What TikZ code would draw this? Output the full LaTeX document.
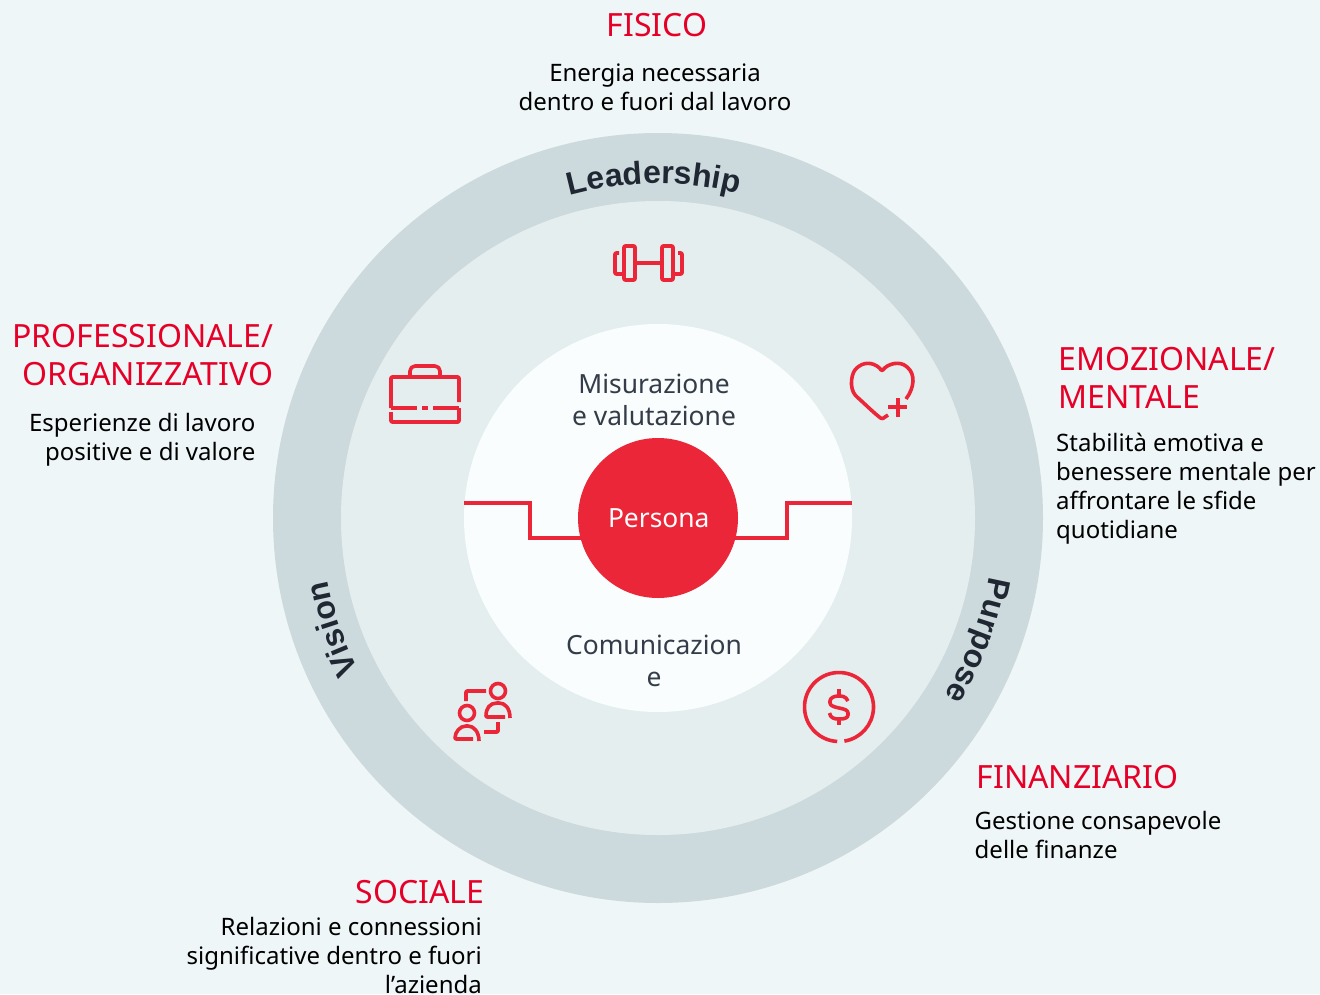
\documentclass[tikz,border=0pt]{standalone}
\usepackage{fontspec}
\setmainfont{Noto Sans}
\newfontfamily\arcfont{Liberation Sans}[BoldFont={Liberation Sans Bold}]
\usetikzlibrary{decorations.text}
\definecolor{bgc}{HTML}{EFF6F7}
\definecolor{ringc}{HTML}{CDDADD}
\definecolor{midc}{HTML}{E4EEEE}
\definecolor{innerc}{HTML}{F9FDFD}
\definecolor{redc}{HTML}{EB2638}
\definecolor{titlec}{HTML}{E60028}
\definecolor{inkc}{HTML}{1F2733}
\definecolor{softc}{HTML}{333C48}
\tikzset{
  disc/.style={circle,inner sep=0pt,draw=none},
  titletext/.style={inner sep=0pt,text=titlec,font=\fontsize{32}{38}\selectfont},
  bodytext/.style={inner sep=0pt,text=black,font=\fontsize{24}{29}\selectfont},
  midtext/.style={inner sep=0pt,text=softc,font=\fontsize{26.4}{32}\selectfont},
  icon/.style={draw=redc,line width=3.6pt,line cap=butt,line join=round,rounded corners=1pt},
  stepline/.style={draw=redc,line width=3.8pt,line join=miter},
  arclabel/.style={decorate,decoration={text along path,text color=inkc,
    text={|\arcfont\bfseries\fontsize{32}{32}\selectfont|#1}}}
}
\begin{document}
\begin{tikzpicture}[x=1pt,y=-1pt]
\useasboundingbox (0,0) rectangle (1320,994);
\fill[bgc] (0,0) rectangle (1320,994);
\coordinate (c) at (658,518);
\node[disc,fill=ringc,minimum size=770pt] (ring) at (c) {};
\node[disc,fill=midc,minimum size=634pt] (mid) at (c) {};
\node[disc,fill=innerc,minimum size=388pt] (inner) at (c) {};
% step lines
\coordinate (la) at (464,503);
\coordinate (ra) at (852,503);
\coordinate (lb) at (530,538);
\coordinate (rb) at (787,538);
\coordinate (lc) at (600,538);
\coordinate (rc) at (716,538);
\draw[stepline] (la) -| (lb) -- (lc);
\draw[stepline] (ra) -| (rb) -- (rc);
\node[disc,fill=redc,minimum size=160pt,text=white,font=\fontsize{26.4}{32}\selectfont] (persona) at (c) {\hspace{1.5pt}\raisebox{-4.5pt}{Persona}};
% arc labels
\path[arclabel=Leadership] (c) ++(-105.3:334.5) arc (-105.3:-70:334.5);
\path[arclabel=Purpose] (c) ++(10:336.5) arc (10:45:336.5);
\path[arclabel=Vision] (c) ++(153:336) arc (153:190:336);
% centre texts
\node[midtext,align=center,anchor=north] (misura) at (654,374) {Misurazione\\e valutazione};
\node[midtext,align=center,anchor=north] (comun) at (654,635) {Comunicazion\\e};
% outer texts
\node[titletext,anchor=north] (fisicoT) at (657,13) {FISICO};
\node[bodytext,align=center,anchor=north] (fisicoB) at (655,64) {Energia necessaria\\dentro e fuori dal lavoro};
\node[titletext,align=right,anchor=north east] (profT) at (273.5,324) {PROFESSIONALE/\\ORGANIZZATIVO};
\node[bodytext,align=right,anchor=north east] (profB) at (255.5,413) {Esperienze di lavoro\\positive e di valore};
\node[titletext,align=left,anchor=north west] (emoT) at (1058.5,347) {EMOZIONALE/\\MENTALE};
\node[bodytext,align=left,anchor=north west] (emoB) at (1056,433) {Stabilità emotiva e\\benessere mentale per\\affrontare le sfide\\quotidiane};
\node[titletext,anchor=north west] (finT) at (976.5,765) {FINANZIARIO};
\node[bodytext,align=left,anchor=north west] (finB) at (974.5,811.5) {Gestione consapevole\\delle finanze};
\node[titletext,anchor=north east] (socT) at (484.5,880) {SOCIALE};
\node[bodytext,align=right,anchor=north east] (socB) at (482,917) {Relazioni e connessioni\\significative dentro e fuori\\l’azienda};
% dumbbell
\draw[icon] (624,246) rectangle (635,280);
\draw[icon] (662,246) rectangle (673,280);
\draw[icon] (635,263) -- (662,263);
\draw[icon] (619,253) -- (615,253) -- (615,274) -- (624,274);
\draw[icon] (678,253) -- (682,253) -- (682,274) -- (673,274);
% briefcase
\draw[icon] (391,408) -- (391,377) -- (459,377) -- (459,402);
\draw[icon] (391,408) -- (417,408) (422,408) -- (428,408) (433,408) -- (459,408);
\draw[icon] (459,408) -- (459,422) -- (391,422) -- (391,412);
\draw[icon,rounded corners=5pt] (410,377) -- (410,366) -- (440,366) -- (440,377);
% heart
\draw[icon] (888,415) -- (882,419) .. controls (875,414) and (866,405) .. (856,396)
  .. controls (849,388) and (851,372) .. (858,367) .. controls (866,361) and (876,363) .. (882,371)
  .. controls (888,363) and (900,361) .. (907,367) .. controls (915,374) and (915,387) .. (906,399);
\draw[icon] (888,407) -- (907,407) (898,398) -- (898,417);
% people
\draw[icon] (498,691) circle (7.5);
\draw[icon] (467,713) circle (7.5);
\draw[icon] (510,718) .. controls (510,708) and (505,703) .. (498,703) .. controls (490,703) and (486,708) .. (486,717) -- (505,717);
\draw[icon] (479,741) .. controls (479,732) and (474,726) .. (467,726) .. controls (460,726) and (455,732) .. (455,739) -- (473,739);
\draw[icon] (466,701) -- (466,691) -- (486,691);
\draw[icon] (498,722) -- (498,732) -- (484,732);
% dollar
\draw[icon] (839,707) ++(93:34.5) arc (93:441:34.5);
\draw[icon] (848,701) .. controls (846,696) and (841,696) .. (839,696)
  .. controls (834,696) and (830,698) .. (830,702) .. controls (830,706) and (835,707) .. (839,708)
  .. controls (844,709) and (848,710) .. (848,714) .. controls (848,718) and (844,719) .. (839,719)
  .. controls (835,719) and (830,718) .. (829.5,713);
\draw[icon] (839,689) -- (839,696) (839,719) -- (839,725);
\end{tikzpicture}
\end{document}
